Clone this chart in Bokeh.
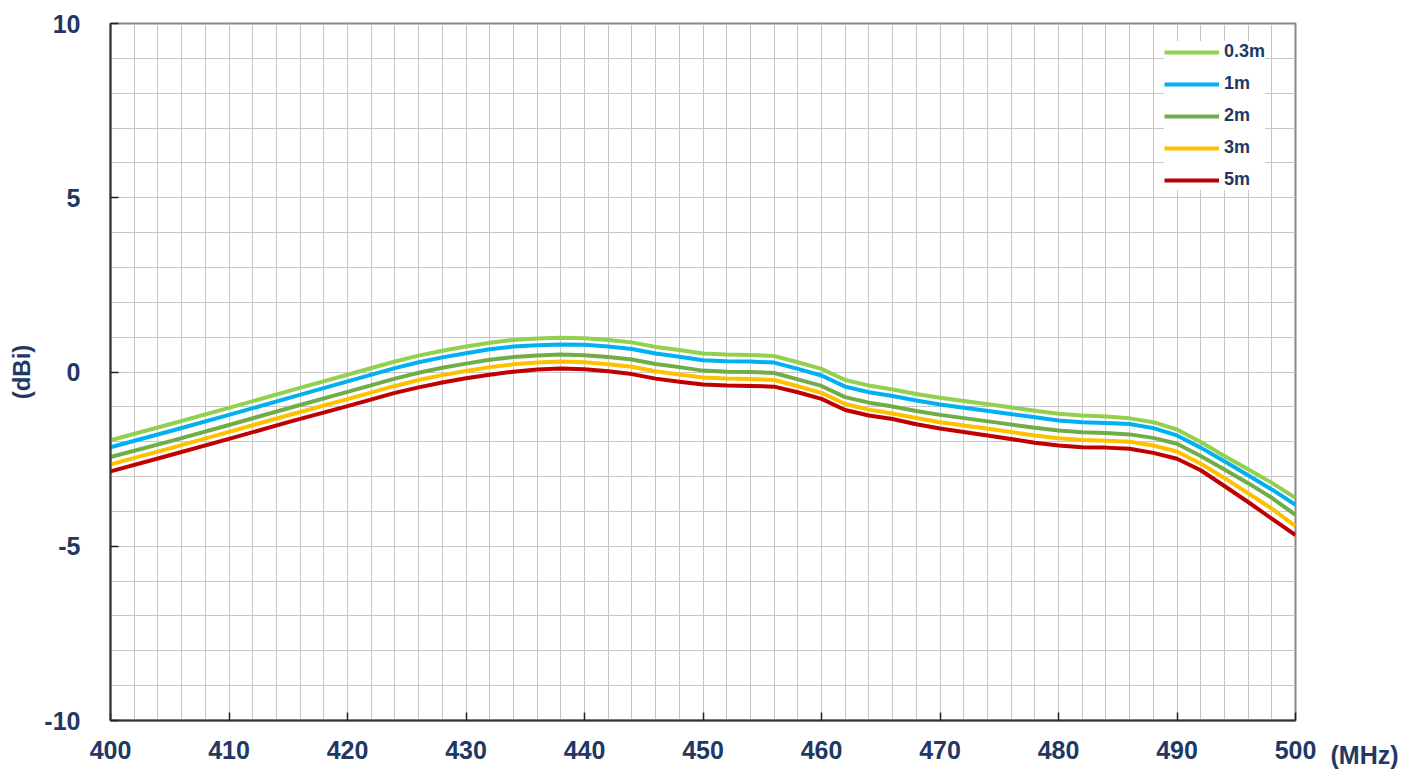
from bokeh.plotting import figure
from bokeh.models import SingleIntervalTicker, FixedTicker, Legend, LegendItem, Range1d
from bokeh.layouts import row
from bokeh.embed import file_html
from bokeh.resources import INLINE

freq = [400, 405, 410, 415, 420, 424, 426, 428, 430, 432, 434, 436, 438, 440, 442, 444,
        446, 448, 450, 452, 454, 456, 458, 460, 462, 464, 466, 468, 470, 475, 478,
        480, 482, 484, 486, 488, 490, 492, 494, 496, 498, 500]

gain_03m = [-1.96, -1.50, -1.03, -0.55, -0.08, 0.30, 0.47, 0.61, 0.73, 0.84, 0.92, 0.96, 0.98, 0.97, 0.92, 0.85,
            0.72, 0.63, 0.53, 0.50, 0.49, 0.46, 0.28, 0.09, -0.23, -0.39, -0.50, -0.63, -0.74, -0.97, -1.11,
            -1.20, -1.25, -1.28, -1.33, -1.44, -1.65, -2.01, -2.41, -2.79, -3.18, -3.61]
gain_1m = [-2.16, -1.70, -1.23, -0.75, -0.27, 0.11, 0.28, 0.42, 0.54, 0.65, 0.73, 0.77, 0.79, 0.78, 0.73, 0.66,
           0.53, 0.44, 0.34, 0.31, 0.30, 0.27, 0.09, -0.10, -0.42, -0.58, -0.69, -0.82, -0.93, -1.16, -1.30,
           -1.39, -1.44, -1.46, -1.49, -1.61, -1.82, -2.17, -2.56, -2.96, -3.37, -3.81]
gain_2m = [-2.44, -1.99, -1.52, -1.04, -0.57, -0.19, -0.02, 0.12, 0.24, 0.35, 0.43, 0.47, 0.50, 0.48, 0.43, 0.36,
           0.23, 0.14, 0.04, 0.01, 0.00, -0.03, -0.21, -0.40, -0.72, -0.88, -0.99, -1.12, -1.23, -1.46, -1.60,
           -1.68, -1.73, -1.75, -1.79, -1.89, -2.06, -2.41, -2.80, -3.19, -3.61, -4.10]
gain_3m = [-2.65, -2.19, -1.72, -1.24, -0.78, -0.40, -0.23, -0.09, 0.03, 0.14, 0.22, 0.27, 0.30, 0.28, 0.22, 0.15,
           0.02, -0.07, -0.16, -0.19, -0.20, -0.23, -0.41, -0.60, -0.92, -1.08, -1.19, -1.32, -1.44, -1.67, -1.82,
           -1.90, -1.95, -1.97, -2.00, -2.11, -2.28, -2.63, -3.04, -3.48, -3.92, -4.42]
gain_5m = [-2.85, -2.39, -1.92, -1.44, -0.98, -0.60, -0.44, -0.30, -0.18, -0.08, 0.01, 0.07, 0.10, 0.08, 0.02, -0.06,
           -0.19, -0.28, -0.36, -0.39, -0.40, -0.42, -0.58, -0.77, -1.09, -1.25, -1.35, -1.50, -1.62, -1.87, -2.03,
           -2.11, -2.16, -2.17, -2.20, -2.32, -2.49, -2.82, -3.27, -3.73, -4.21, -4.68]

series_names = ["0.3m", "1m", "2m", "3m", "5m"]
series_colors = ["#92D050", "#00B0F0", "#70AD47", "#FFC000", "#C00000"]
series_values = [gain_03m, gain_1m, gain_2m, gain_3m, gain_5m]

y_tick_labels = {-10: "-10", -5: "-5", 0: "0", 5: "5", 10: "10"}
x_unit_label = "(MHz)"
y_axis_label = "(dBi)"

FONT = "Liberation Sans"
NAVY = "#1F3864"

p = figure(width=1320, height=771, output_backend="svg", toolbar_location=None,
           x_range=Range1d(400, 500), y_range=Range1d(-10, 10))
p.min_border_left = 110
p.min_border_top = 23
p.min_border_right = 25
p.min_border_bottom = 49

p.background_fill_color = "white"
p.border_fill_color = "white"
p.outline_line_color = "#888888"
p.outline_line_width = 2

p.xaxis.ticker = SingleIntervalTicker(interval=10, num_minor_ticks=5)
p.yaxis.ticker = SingleIntervalTicker(interval=5, num_minor_ticks=5)
p.yaxis.major_label_overrides = y_tick_labels

for g in (p.xgrid, p.ygrid):
    g.grid_line_color = "#c6c6c6"
    g.grid_line_width = 1
    g.minor_grid_line_color = "#c6c6c6"
    g.minor_grid_line_width = 1

for ax in (p.xaxis, p.yaxis):
    ax.axis_line_color = "#333333"
    ax.axis_line_width = 2
    ax.major_tick_in = 8
    ax.major_tick_out = 0
    ax.major_tick_line_color = "#222222"
    ax.major_tick_line_width = 1.5
    ax.minor_tick_in = 0
    ax.minor_tick_out = 0
    ax.major_label_text_font = FONT
    ax.major_label_text_font_style = "bold"
    ax.major_label_text_font_size = "25px"
    ax.major_label_text_color = NAVY

p.xaxis.major_label_standoff = 20
p.yaxis.major_label_standoff = 30

p.yaxis.axis_label = y_axis_label
p.yaxis.axis_label_text_font = FONT
p.yaxis.axis_label_text_font_style = "bold"
p.yaxis.axis_label_text_font_size = "24px"
p.yaxis.axis_label_text_color = NAVY
p.yaxis.axis_label_standoff = 6

items = []
for name, color, vals in zip(series_names, series_colors, series_values):
    r = p.line(freq, vals, line_color=color, line_width=4, line_join="round")
    items.append(LegendItem(label=name, renderers=[r]))

legend = Legend(items=items, location=(1054, 530))
legend.background_fill_color = "white"
legend.background_fill_alpha = 1.0
legend.border_line_color = None
legend.label_text_font = FONT
legend.label_text_font_style = "bold"
legend.label_text_font_size = "18px"
legend.label_text_color = NAVY
legend.glyph_width = 55
legend.glyph_height = 20
legend.label_height = 20
legend.label_standoff = 5
legend.spacing = 11
legend.padding = 11
p.add_layout(legend, "center")

# narrow companion canvas whose bottom axis carries the unit text beside "500"
p2 = figure(width=97, height=771, output_backend="svg", toolbar_location=None,
            x_range=Range1d(0, 97), y_range=Range1d(0, 1))
p2.min_border_left = 0
p2.min_border_right = 0
p2.min_border_top = 23
p2.min_border_bottom = 49
p2.yaxis.visible = False
p2.grid.visible = False
p2.outline_line_color = None
p2.background_fill_color = "white"
p2.border_fill_color = "white"
p2.xaxis.ticker = FixedTicker(ticks=[44])
p2.xaxis.major_label_overrides = {44: x_unit_label}
p2.xaxis.axis_line_color = None
p2.xaxis.major_tick_line_color = None
p2.xaxis.minor_tick_line_color = None
p2.xaxis.major_tick_in = 0
p2.xaxis.major_tick_out = 0
p2.xaxis.major_label_standoff = 20
p2.xaxis.major_label_text_font = FONT
p2.xaxis.major_label_text_font_style = "bold"
p2.xaxis.major_label_text_font_size = "25px"
p2.xaxis.major_label_text_color = NAVY

layout = row(p, p2, spacing=0)

open("out.html", "w").write(file_html(layout, INLINE))
